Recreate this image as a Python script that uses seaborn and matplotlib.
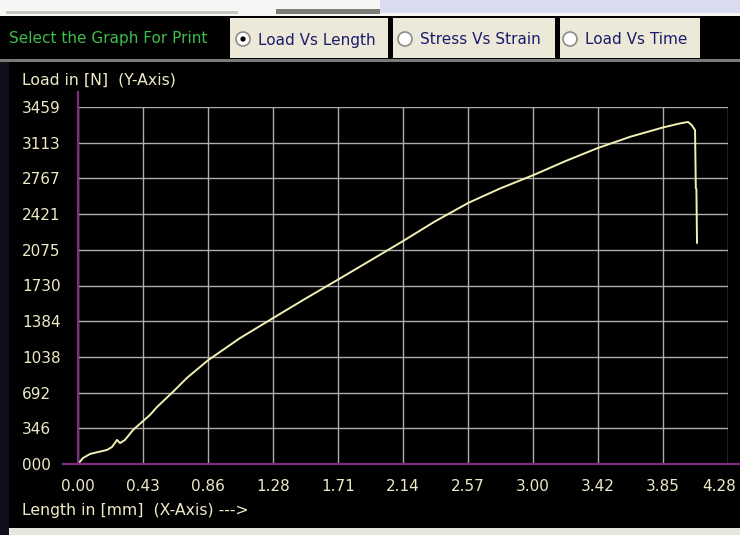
import matplotlib
matplotlib.use("Agg")
import matplotlib.pyplot as plt
import matplotlib.transforms as mtransforms
import seaborn as sns
import pandas as pd
from matplotlib.patches import Rectangle, Circle

# load vs length readings
length_mm = [0.000, 0.033, 0.079, 0.132, 0.191, 0.224, 0.257, 0.277, 0.309, 0.362,
             0.408, 0.474, 0.520, 0.626, 0.718, 0.856, 1.067, 1.280, 1.495, 1.710,
             1.923, 2.140, 2.350, 2.570, 2.780, 3.000, 3.210, 3.420, 3.635, 3.850,
             3.964, 4.017, 4.040, 4.063, 4.068, 4.072, 4.076]
load_n = [0, 58, 97, 116, 136, 165, 233, 203, 233, 329,
          390, 475, 552, 700, 835, 1005, 1220, 1410, 1600, 1785,
          1970, 2160, 2350, 2530, 2670, 2800, 2935, 3060, 3170, 3260,
          3300, 3314, 3285, 3236, 2674, 2660, 2141]

x_ticks = [0.0, 0.428, 0.856, 1.284, 1.712, 2.14, 2.568, 2.996, 3.424, 3.852, 4.28]
x_tick_labels = ["0.00", "0.43", "0.86", "1.28", "1.71", "2.14", "2.57", "3.00", "3.42", "3.85", "4.28"]
y_ticks = [0, 345.9, 691.8, 1037.7, 1383.6, 1729.5, 2075.4, 2421.3, 2767.2, 3113.1, 3459]
y_tick_labels = ["000", "346", "692", "1038", "1384", "1730", "2075", "2421", "2767", "3113", "3459"]

tab_labels = ["Load Vs Length", "Stress Vs Strain", "Load Vs Time"]

W, H = 740, 535
CREAM = "#EEEAC6"
PURPLE = "#7E2C80"
BEIGE = "#ECE9D8"


def draw_chrome(fig):
    bg = fig.add_axes([0, 0, 1, 1], zorder=0)
    bg.set_xlim(0, W)
    bg.set_ylim(H, 0)
    bg.axis("off")

    # window strip at the top
    bg.add_patch(Rectangle((0, 0), W, 16, fc="#F6F6F4", ec="none"))
    bg.add_patch(Rectangle((380, 0), W - 380, 13, fc="#D9DCEE", ec="none"))
    bg.add_patch(Rectangle((276, 9), 104, 5, fc="#7C7C78", ec="none"))
    bg.add_patch(Rectangle((6, 11), 232, 3, fc="#C4C4C0", ec="none"))

    # black selector strip + separator
    bg.add_patch(Rectangle((0, 16), W, 43, fc="black", ec="none"))
    bg.add_patch(Rectangle((0, 59), W, 3, fc="#7A7A7A", ec="none"))
    bg.add_patch(Rectangle((0, 62), 9, H - 62, fc="#10101C", ec="none"))
    bg.add_patch(Rectangle((9, 528), W - 9, 7, fc="#E6E6DF", ec="none"))

    bg.text(9, 39, "Select the Graph For Print", color="#3DBE4A", fontsize=11,
            ha="left", va="center")

    boxes = [(230, 158, 243, 258), (393, 162, 405, 420), (560, 140, 570, 585)]
    for i, (x0, w, rx, tx) in enumerate(boxes):
        bg.add_patch(Rectangle((x0, 18), w, 40, fc=BEIGE, ec="none"))
        bg.add_patch(Circle((rx, 39), 7, fc="white", ec="#8C8C88", lw=1.2))
        if i == 0:
            bg.add_patch(Circle((rx, 39), 2.6, fc="black", ec="none"))
        bg.text(tx, 40, tab_labels[i], color="#1C1C6C", fontsize=11,
                ha="left", va="center")

    bg.text(22, 80, "Load in [N]  (Y-Axis)", color=CREAM, fontsize=11.3,
            ha="left", va="center")
    bg.text(22, 510, "Length in [mm]  (X-Axis) --->", color=CREAM, fontsize=11.3,
            ha="left", va="center")


def load_length_chart(fig):
    df = pd.DataFrame({"length": length_mm, "load": load_n})

    ax = fig.add_axes([78 / W, 1 - 464 / H, 650 / W, (464 - 107) / H], zorder=1)
    ax.set_facecolor("black")

    sns.lineplot(data=df, x="length", y="load", ax=ax, color="#F2F0B2",
                 linewidth=1.4, sort=False, estimator=None)

    ax.set_xlim(0, 4.28)
    ax.set_ylim(0, 3459)
    ax.set_xticks(x_ticks, x_tick_labels)
    ax.set_yticks(y_ticks, y_tick_labels)
    ax.grid(True, color="#ADADAD", linewidth=1.0)
    ax.set_axisbelow(True)
    ax.set_xlabel("")
    ax.set_ylabel("")

    ax.tick_params(axis="x", length=0, pad=10.5, colors=CREAM, labelsize=11)
    ax.tick_params(axis="y", length=0, pad=40.3, colors=CREAM, labelsize=11)
    for lbl in ax.get_yticklabels():
        lbl.set_horizontalalignment("left")

    # last x label sits at the window edge, nudge it in so it stays readable
    last = ax.get_xticklabels()[-1]
    last.set_transform(last.get_transform() +
                       mtransforms.ScaledTranslation(-9 / 100, 0, fig.dpi_scale_trans))

    for side in ["top", "right"]:
        ax.spines[side].set_visible(False)
    for side in ["left", "bottom"]:
        ax.spines[side].set_color(PURPLE)
        ax.spines[side].set_linewidth(1.6)
    ax.spines["left"].set_bounds(0, 3600)
    ax.spines["bottom"].set_bounds(-0.1, 4.5)


sns.set_style("dark")
plt.rcParams["font.family"] = ["DejaVu Sans"]

fig = plt.figure(figsize=(W / 100, H / 100), dpi=100, facecolor="black")
draw_chrome(fig)
load_length_chart(fig)

fig.savefig("out.png", dpi=100, facecolor="black")
plt.close()
